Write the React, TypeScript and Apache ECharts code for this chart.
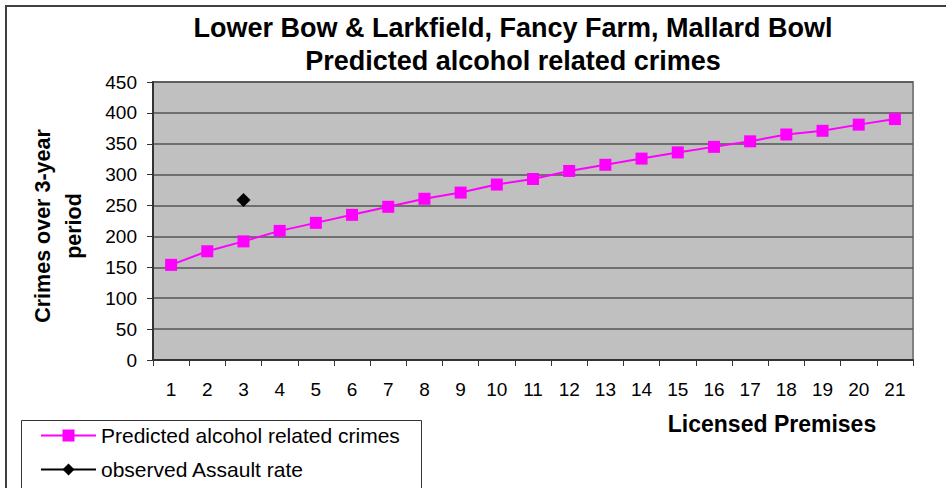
import React, { useEffect, useRef } from "react";
import * as echarts from "echarts";

const categories = ["1","2","3","4","5","6","7","8","9","10","11","12","13","14","15","16","17","18","19","20","21"];
const predicted = [154, 176, 192, 209, 222, 235, 248, 261, 271, 284, 293, 306, 316, 326, 336, 345, 354, 365, 371, 381, 390];
const observed = [null, null, 259, null, null, null, null, null, null, null, null, null, null, null, null, null, null, null, null, null, null];
const titleLines = ["Lower Bow & Larkfield, Fancy Farm, Mallard Bowl", "Predicted alcohol related crimes"];
const seriesNames = ["Predicted alcohol related crimes", "observed Assault rate"];

const FONT = "Arial, 'Liberation Sans', sans-serif";

export default function App() {
  const ref = useRef<HTMLDivElement>(null);
  useEffect(() => {
    if (!ref.current) return;
    const chart = echarts.init(ref.current, null, { renderer: "svg" });
    chart.setOption({
      animation: false,
      backgroundColor: "#ffffff",
      textStyle: { fontFamily: FONT },
      title: {
        text: titleLines.join("\n"),
        left: 513,
        top: 11,
        padding: 0,
        textAlign: "center",
        textStyle: { fontFamily: FONT, fontSize: 27, fontWeight: "bold", color: "#000", lineHeight: 33 },
      },
      grid: {
        left: 153,
        top: 82,
        width: 760,
        height: 278,
        show: true,
        backgroundColor: "#C0C0C0",
        borderColor: "#808080",
        borderWidth: 2,
        containLabel: false,
        outerBoundsMode: "none",
      },
      legend: {
        orient: "vertical",
        left: 40,
        top: 425,
        itemWidth: 55,
        itemHeight: 15,
        itemGap: 13,
        padding: 0,
        data: seriesNames,
        textStyle: { fontFamily: FONT, fontSize: 21, color: "#000", lineHeight: 20 },
      },
      xAxis: {
        type: "category",
        data: categories,
        boundaryGap: true,
        name: "Licensed Premises",
        nameLocation: "end",
        nameGap: -141,
        nameMoveOverlap: false,
        nameTextStyle: {
          fontFamily: FONT,
          fontSize: 23,
          fontWeight: "bold",
          color: "#000",
          align: "center",
          verticalAlign: "top",
          padding: [52, 0, 0, 0],
        },
        axisLine: { show: true, lineStyle: { color: "#333", width: 2 } },
        axisTick: { show: true, length: 6, inside: false, lineStyle: { color: "#333", width: 1 } },
        axisLabel: { fontFamily: FONT, fontSize: 19, color: "#000", margin: 20, interval: 0 },
        splitLine: { show: false },
      },
      yAxis: {
        type: "value",
        min: 0,
        max: 450,
        interval: 50,
        name: "Crimes over 3-year\nperiod",
        nameLocation: "middle",
        nameGap: 64,
        nameRotate: 90,
        nameMoveOverlap: false,
        nameTextStyle: {
          fontFamily: FONT,
          fontSize: 21.5,
          fontWeight: "bold",
          color: "#000",
          lineHeight: 31,
          padding: [0, 10, 0, 0],
        },
        axisLine: { show: true, lineStyle: { color: "#333", width: 2 } },
        axisTick: { show: true, length: 6, inside: false, lineStyle: { color: "#333", width: 1 } },
        axisLabel: { fontFamily: FONT, fontSize: 19, color: "#000", margin: 16 },
        splitLine: { show: true, lineStyle: { color: "#555", width: 1.5 } },
      },
      series: [
        {
          name: seriesNames[0],
          type: "line",
          data: predicted,
          symbol: "rect",
          symbolSize: 12,
          showAllSymbol: true,
          itemStyle: { color: "#FF00FF" },
          lineStyle: { color: "#FF00FF", width: 2 },
          z: 3,
        },
        {
          name: seriesNames[1],
          type: "line",
          data: observed,
          symbol: "diamond",
          symbolSize: 14,
          connectNulls: false,
          itemStyle: { color: "#000000" },
          lineStyle: { color: "#000000", width: 2 },
          z: 4,
        },
      ],
      graphic: [
        {
          type: "rect",
          shape: { x: 6, y: 6, width: 1000, height: 600 },
          style: { fill: "none", stroke: "#404040", lineWidth: 2 },
          silent: true,
          z: 0,
        },
        {
          type: "rect",
          shape: { x: 21.5, y: 420.5, width: 400, height: 100 },
          style: { fill: "none", stroke: "#333", lineWidth: 1 },
          silent: true,
          z: 0,
        },
      ],
    });
    return () => chart.dispose();
  }, []);
  return (
    <div
      ref={ref}
      style={{ position: "fixed", left: 0, top: 0, width: 946, height: 488 }}
    />
  );
}
